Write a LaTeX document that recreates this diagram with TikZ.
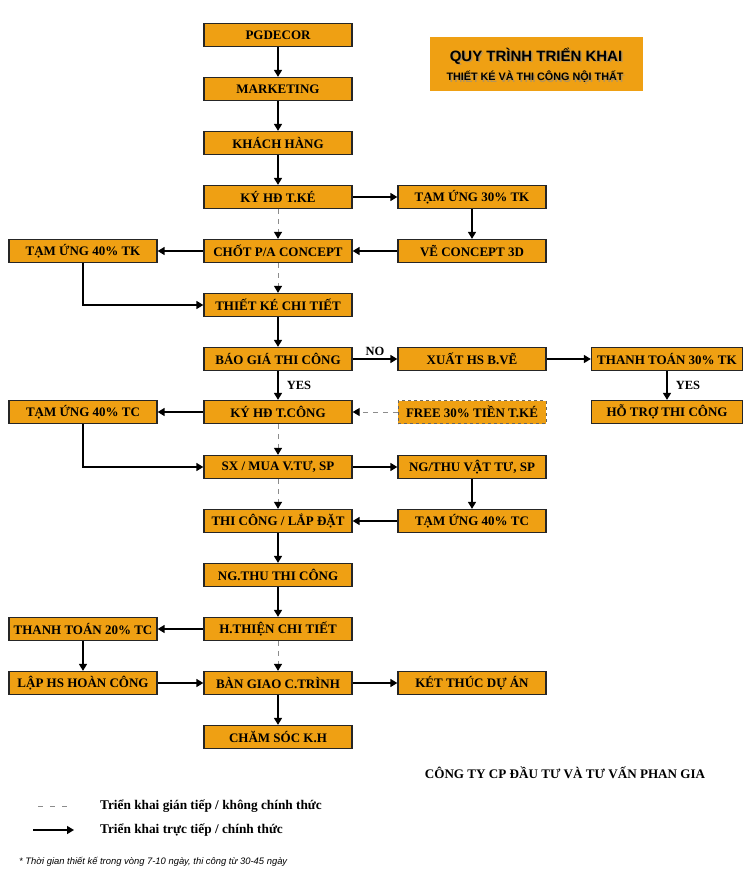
\documentclass[tikz,border=0pt]{standalone}
\usepackage{fontspec}
\setmainfont{Liberation Serif}
\newfontfamily\arialf{Liberation Sans}
\usetikzlibrary{arrows.meta}
\definecolor{boxor}{HTML}{EFA013}
\definecolor{dashgray}{HTML}{8C8C8C}
\begin{document}
\begin{tikzpicture}[x=1pt,y=-1pt,
  stepbox/.style={draw=black!85, line width=1.3pt, fill=boxor, minimum width=148pt, minimum height=23pt, inner sep=0pt, font=\bfseries\fontsize{13}{14}\selectfont},
  flow/.style={line width=1.5pt, -{Triangle[length=7pt,width=8pt]}},
  indirect/.style={dashgray, line width=1pt, dash pattern=on 5pt off 5pt, -{Triangle[length=7pt,width=8pt,color=black]}},
  lbl/.style={font=\bfseries\fontsize{12.5}{14}\selectfont, inner sep=2pt},
  legendtext/.style={anchor=west, font=\bfseries\fontsize{13.3}{15}\selectfont, inner sep=0pt},
  titletext/.style={font=\arialf\bfseries\fontsize{15}{17}\selectfont, inner sep=0pt},
  subtext/.style={font=\arialf\bfseries\fontsize{10.8}{12}\selectfont, inner sep=0pt}]
\useasboundingbox (0,0) rectangle (750,879);
\fill[white] (0,0) rectangle (750,879);

% title
\fill[boxor] (430,37) rectangle (643,91);
\node[titletext, text=black!45, opacity=0.6] at (537.5,57.5) {QUY TRÌNH TRIỂN KHAI};
\node[titletext] (title) at (536,56) {QUY TRÌNH TRIỂN KHAI};
\node[subtext, text=black!45, opacity=0.6] at (536.5,78.5) {THIẾT KÉ VÀ THI CÔNG NỘI THẤT};
\node[subtext] (subtitle) at (535,77) {THIẾT KÉ VÀ THI CÔNG NỘI THẤT};

% center column
\node[stepbox] (pg)   at (278,35)  {PGDECOR};
\node[stepbox] (mk)   at (278,89)  {MARKETING};
\node[stepbox] (kh)   at (278,143) {KHÁCH HÀNG};
\node[stepbox] (kytk) at (278,197) {KÝ HĐ T.KÉ};
\node[stepbox] (chot) at (278,251) {CHỐT P/A CONCEPT};
\node[stepbox] (tktt) at (278,305) {THIẾT KÉ CHI TIẾT};
\node[stepbox] (bg)   at (278,359) {BÁO GIÁ THI CÔNG};
\node[stepbox] (kytc) at (278,412) {KÝ HĐ T.CÔNG};
\node[stepbox] (sx)   at (278,467) {SX / MUA V.TƯ, SP};
\node[stepbox] (tcld) at (278,521) {THI CÔNG / LẮP ĐẶT};
\node[stepbox] (ngtc) at (278,575) {NG.THU THI CÔNG};
\node[stepbox] (ht)   at (278,629) {H.THIỆN CHI TIẾT};
\node[stepbox] (bgct) at (278,683) {BÀN GIAO C.TRÌNH};
\node[stepbox] (cs)   at (278,737) {CHĂM SÓC K.H};

% right column
\node[stepbox] (tu30)    at (472,197) {TẠM ỨNG 30\% TK};
\node[stepbox] (ve3d)    at (472,251) {VẼ CONCEPT 3D};
\node[stepbox] (xuat)    at (472,359) {XUẤT HS B.VẼ};
\node[stepbox, draw=black!60, line width=0.8pt, dashed] (free) at (472,412) {FREE 30\% TIỀN T.KÉ};
\node[stepbox] (ngthu)   at (472,467) {NG/THU VẬT TƯ, SP};
\node[stepbox] (tu40tcr) at (472,521) {TẠM ỨNG 40\% TC};
\node[stepbox] (kt)      at (472,683) {KÉT THÚC DỰ ÁN};

% far right column
\node[stepbox, minimum width=151pt] (tt30) at (667,359) {THANH TOÁN 30\% TK};
\node[stepbox, minimum width=151pt] (htc)  at (667,412) {HỖ TRỢ THI CÔNG};

% left column
\node[stepbox] (tu40tk) at (83,251) {TẠM ỨNG 40\% TK};
\node[stepbox] (tu40tc) at (83,412) {TẠM ỨNG 40\% TC};
\node[stepbox] (tt20)   at (83,629) {THANH TOÁN 20\% TC};
\node[stepbox] (lap)    at (83,683) {LẬP HS HOÀN CÔNG};

% connectors
\draw[flow] (pg) -- (mk);
\draw[flow] (mk) -- (kh);
\draw[flow] (kh) -- (kytk);
\draw[indirect] (kytk) -- (chot);
\draw[indirect] (chot) -- (tktt);
\draw[flow] (kytk) -- (tu30);
\draw[flow] (tu30) -- (ve3d);
\draw[flow] (ve3d) -- (chot);
\draw[flow] (chot) -- (tu40tk);
\draw[flow] (tu40tk) |- (tktt);
\draw[flow] (tktt) -- (bg);
\draw[flow] (bg) -- node[lbl, above, yshift=1pt] {NO} (xuat);
\draw[flow] (xuat) -- (tt30);
\draw[flow] (tt30) -- node[lbl, right, xshift=6pt] {YES} (htc);
\draw[flow] (bg) -- node[lbl, right, xshift=6pt] {YES} (kytc);
\draw[indirect] (free) -- (kytc);
\draw[flow] (kytc) -- (tu40tc);
\draw[flow] (tu40tc) |- (sx);
\draw[indirect] (kytc) -- (sx);
\draw[flow] (sx) -- (ngthu);
\draw[flow] (ngthu) -- (tu40tcr);
\draw[flow] (tu40tcr) -- (tcld);
\draw[indirect] (sx) -- (tcld);
\draw[flow] (tcld) -- (ngtc);
\draw[flow] (ngtc) -- (ht);
\draw[flow] (ht) -- (tt20);
\draw[indirect] (ht) -- (bgct);
\draw[flow] (tt20) -- (lap);
\draw[flow] (lap) -- (bgct);
\draw[flow] (bgct) -- (kt);
\draw[flow] (bgct) -- (cs);

% company
\node[font=\bfseries\fontsize{13.1}{15}\selectfont, inner sep=0pt] (company) at (565,773) {CÔNG TY CP ĐẦU TƯ VÀ TƯ VẤN PHAN GIA};

% legend
\coordinate (la1) at (38,806);
\coordinate (la2) at (73,806);
\coordinate (lb1) at (33,830);
\coordinate (lb2) at (74,830);
\draw[dashgray, line width=1pt, dash pattern=on 5pt off 7pt] (la1) -- (la2);
\draw[flow] (lb1) -- (lb2);
\node[legendtext] (leg1) at (100,806) {Triển khai gián tiếp / không chính thức};
\node[legendtext] (leg2) at (100,830) {Triển khai trực tiếp / chính thức};

% footnote
\node[anchor=west, inner sep=0pt, font=\arialf\itshape\fontsize{9.4}{11}\selectfont] (foot) at (19,862) {* Thời gian thiết kế trong vòng 7-10 ngày, thi công từ 30-45 ngày};
\end{tikzpicture}
\end{document}
